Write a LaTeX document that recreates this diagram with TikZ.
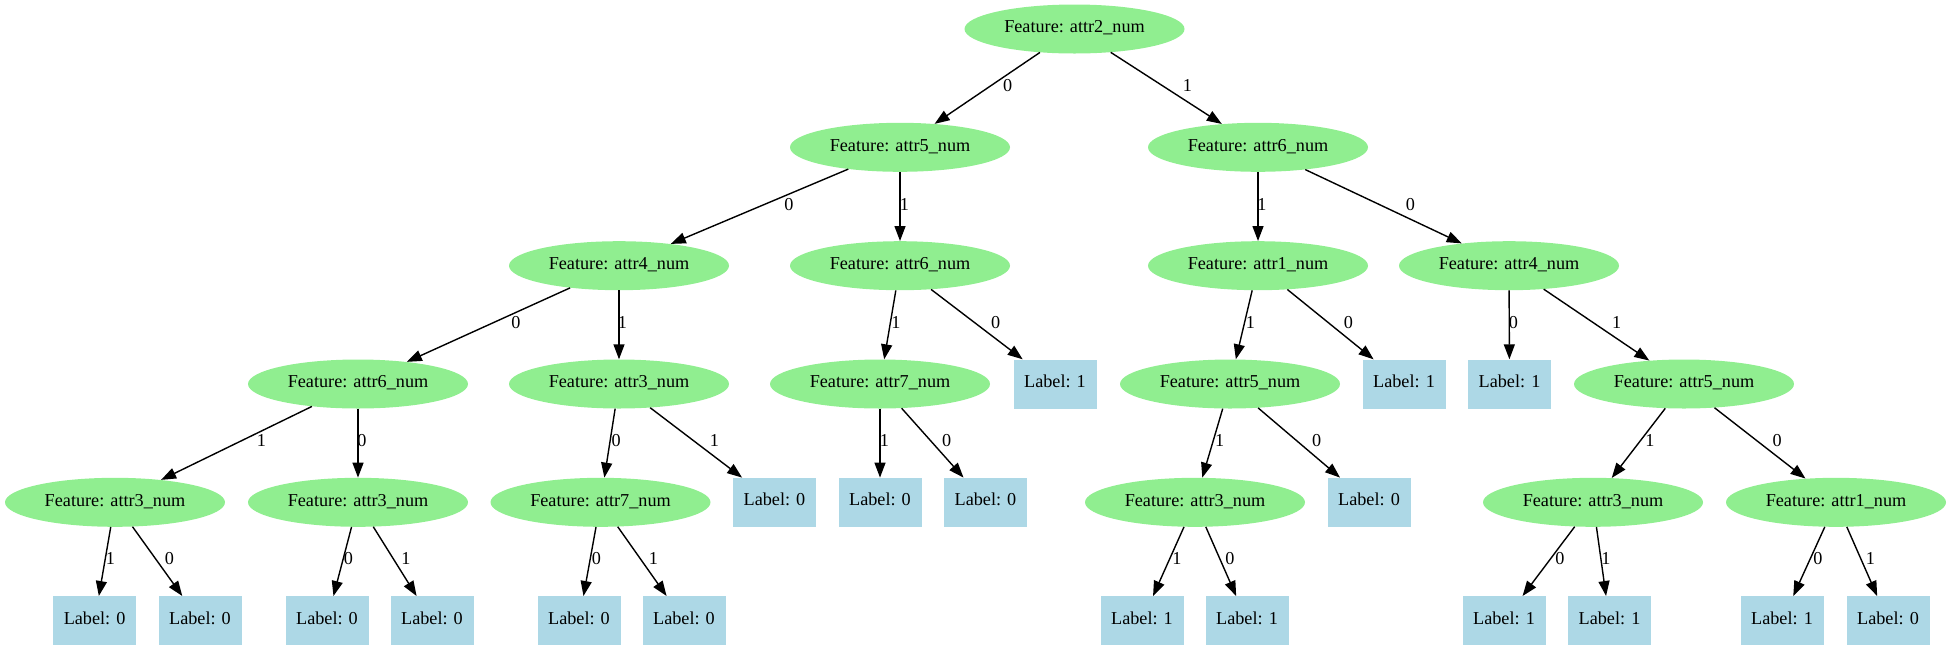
\documentclass[tikz,border=0pt]{standalone}
\usepackage{fontspec}
\setmainfont{Liberation Serif}
\usetikzlibrary{arrows.meta,shapes.geometric}
\definecolor{featgreen}{HTML}{90EE90}
\definecolor{leafblue}{HTML}{ADD8E6}
\tikzset{
  feat/.style={ellipse, fill=featgreen, draw=none, minimum width=220pt, minimum height=49pt, inner sep=0pt, text height=0.75em, text depth=0pt},
  leaf/.style={rectangle, fill=leafblue, draw=none, minimum width=83pt, minimum height=49pt, inner sep=0pt, text height=0.7em, text depth=0pt},
  elab/.style={inner sep=0pt, text height=0.67em, text depth=0pt},
  edge/.style={line width=1.4pt, -{Triangle[length=15pt,width=11pt]}}
}
\begin{document}
\begin{tikzpicture}[x=1pt,y=-1pt,font=\fontsize{18.2}{22}\selectfont]
\useasboundingbox (0,0) rectangle (1951,649);
% rank 0
\node[feat] (n0) at (1074.5,29) {Feature: attr2\_num};
% rank 1
\node[feat] (n1) at (900,147.3) {Feature: attr5\_num};
\node[feat] (n2) at (1258,147.3) {Feature: attr6\_num};
% rank 2
\node[feat] (n3) at (619,265.7) {Feature: attr4\_num};
\node[feat] (n4) at (900,265.7) {Feature: attr6\_num};
\node[feat] (n5) at (1258,265.7) {Feature: attr1\_num};
\node[feat] (n6) at (1509,265.7) {Feature: attr4\_num};
% rank 3
\node[feat] (n7) at (358,384) {Feature: attr6\_num};
\node[feat] (n8) at (619,384) {Feature: attr3\_num};
\node[feat] (n9) at (880,384) {Feature: attr7\_num};
\node[leaf] (n10) at (1055,384) {Label: 1};
\node[feat] (n11) at (1230,384) {Feature: attr5\_num};
\node[leaf] (n12) at (1404,384) {Label: 1};
\node[leaf] (n13) at (1509.5,384) {Label: 1};
\node[feat] (n14) at (1684,384) {Feature: attr5\_num};
% rank 4
\node[feat] (n15) at (115,502.3) {Feature: attr3\_num};
\node[feat] (n16) at (358,502.3) {Feature: attr3\_num};
\node[feat] (n17) at (600.5,502.3) {Feature: attr7\_num};
\node[leaf] (n18) at (774.5,502.3) {Label: 0};
\node[leaf] (n19) at (880,502.3) {Label: 0};
\node[leaf] (n20) at (985.5,502.3) {Label: 0};
\node[feat] (n21) at (1195,502.3) {Feature: attr3\_num};
\node[leaf] (n22) at (1369,502.3) {Label: 0};
\node[feat] (n23) at (1593,502.3) {Feature: attr3\_num};
\node[feat] (n24) at (1836,502.3) {Feature: attr1\_num};
% rank 5
\node[leaf] (n25) at (94.6,620.7) {Label: 0};
\node[leaf] (n26) at (200,620.7) {Label: 0};
\node[leaf] (n27) at (327,620.7) {Label: 0};
\node[leaf] (n28) at (432,620.7) {Label: 0};
\node[leaf] (n29) at (579,620.7) {Label: 0};
\node[leaf] (n30) at (684,620.7) {Label: 0};
\node[leaf] (n31) at (1142,620.7) {Label: 1};
\node[leaf] (n32) at (1247,620.7) {Label: 1};
\node[leaf] (n33) at (1504,620.7) {Label: 1};
\node[leaf] (n34) at (1609.5,620.7) {Label: 1};
\node[leaf] (n35) at (1782,620.7) {Label: 1};
\node[leaf] (n36) at (1888,620.7) {Label: 0};
% edges
\draw[edge] (n0) -- (n1);  \node[elab] (e1) at (1007.7,88.6) {0};
\draw[edge] (n0) -- (n2);  \node[elab] (e2) at (1187.3,88.6) {1};
\draw[edge] (n1) -- (n3);  \node[elab] (e3) at (789,206.9) {0};
\draw[edge] (n1) -- (n4);  \node[elab] (e4) at (904.5,206.9) {1};
\draw[edge] (n2) -- (n5);  \node[elab] (e5) at (1262,206.9) {1};
\draw[edge] (n2) -- (n6);  \node[elab] (e6) at (1410.4,206.9) {0};
\draw[edge] (n3) -- (n7);  \node[elab] (e7) at (515.8,325.1) {0};
\draw[edge] (n3) -- (n8);  \node[elab] (e8) at (622.4,325.1) {1};
\draw[edge] (n4) -- (n9);  \node[elab] (e9) at (896,325.1) {1};
\draw[edge] (n4) -- (n10); \node[elab] (e10) at (995.6,325.1) {0};
\draw[edge] (n5) -- (n11); \node[elab] (e11) at (1250.4,325.1) {1};
\draw[edge] (n5) -- (n12); \node[elab] (e12) at (1348.5,325.1) {0};
\draw[edge] (n6) -- (n13); \node[elab] (e13) at (1513.3,325.1) {0};
\draw[edge] (n6) -- (n14); \node[elab] (e14) at (1616.6,325.1) {1};
\draw[edge] (n7) -- (n15); \node[elab] (e15) at (261.4,443.4) {1};
\draw[edge] (n7) -- (n16); \node[elab] (e16) at (361.8,443.4) {0};
\draw[edge] (n8) -- (n17); \node[elab] (e17) at (616.2,443.4) {0};
\draw[edge] (n8) -- (n18); \node[elab] (e18) at (714.3,443.4) {1};
\draw[edge] (n9) -- (n19); \node[elab] (e19) at (884.4,443.4) {1};
\draw[edge] (n9) -- (n20); \node[elab] (e20) at (946.7,443.4) {0};
\draw[edge] (n11) -- (n21); \node[elab] (e21) at (1219.7,443.4) {1};
\draw[edge] (n11) -- (n22); \node[elab] (e22) at (1316.6,443.4) {0};
\draw[edge] (n14) -- (n23); \node[elab] (e23) at (1649.8,443.4) {1};
\draw[edge] (n14) -- (n24); \node[elab] (e24) at (1777.2,443.4) {0};
\draw[edge] (n15) -- (n25); \node[elab] (e25) at (110.4,561.6) {1};
\draw[edge] (n15) -- (n26); \node[elab] (e26) at (169.3,561.6) {0};
\draw[edge] (n16) -- (n27); \node[elab] (e27) at (348.5,561.6) {0};
\draw[edge] (n16) -- (n28); \node[elab] (e28) at (405.8,561.6) {1};
\draw[edge] (n17) -- (n29); \node[elab] (e29) at (596.3,561.6) {0};
\draw[edge] (n17) -- (n30); \node[elab] (e30) at (653.3,561.6) {1};
\draw[edge] (n21) -- (n31); \node[elab] (e31) at (1177,561.6) {1};
\draw[edge] (n21) -- (n32); \node[elab] (e32) at (1230,561.6) {0};
\draw[edge] (n23) -- (n33); \node[elab] (e33) at (1560,561.6) {0};
\draw[edge] (n23) -- (n34); \node[elab] (e34) at (1605.8,561.6) {1};
\draw[edge] (n24) -- (n35); \node[elab] (e35) at (1817.8,561.6) {0};
\draw[edge] (n24) -- (n36); \node[elab] (e36) at (1870.5,561.6) {1};
\end{tikzpicture}
\end{document}
